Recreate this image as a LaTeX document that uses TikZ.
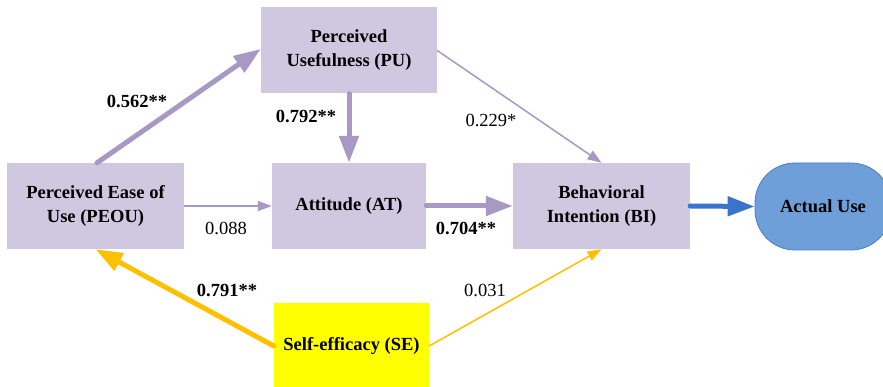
\documentclass[tikz,border=0pt]{standalone}
\usepackage{fontspec}
\setmainfont{Liberation Serif}
\usetikzlibrary{arrows.meta}
\definecolor{boxfill}{RGB}{208,200,224}
\definecolor{lav}{RGB}{168,152,196}
\definecolor{sefill}{RGB}{255,255,0}
\definecolor{seline}{RGB}{255,192,0}
\definecolor{aufill}{RGB}{111,159,216}
\definecolor{audraw}{RGB}{74,126,200}
\definecolor{blarrow}{RGB}{56,116,204}
\tikzset{
  cbox/.style={fill=boxfill, draw=none, align=center, font=\fontsize{18.5}{24}\selectfont\bfseries, inner sep=0pt},
  thickarr/.style={line width=5pt, line cap=round, -{Triangle[length=27pt,width=19pt]}},
  thinarr/.style={line width=1.5pt, -{Triangle[length=14pt,width=10pt]}},
  lab/.style={font=\fontsize{18.5}{20}\selectfont, inner sep=0pt},
  blab/.style={lab, font=\fontsize{18.5}{20}\selectfont\bfseries}
}
\begin{document}
\begin{tikzpicture}[x=1pt,y=-1pt]
\useasboundingbox (0,0) rectangle (883,387);
\node[cbox, minimum width=176pt, minimum height=86pt] (pu) at (349,50.5) {Perceived\\Usefulness (PU)};
\node[cbox, minimum width=177pt, minimum height=86pt] (peou) at (95.5,206) {Perceived Ease of\\Use (PEOU)};
\node[cbox, minimum width=154pt, minimum height=86pt] (at) at (349,206) {Attitude (AT)};
\node[cbox, minimum width=177pt, minimum height=86pt] (bi) at (601.5,206) {Behavioral\\Intention (BI)};
\node[fill=aufill, draw=audraw, line width=0.8pt, rounded corners=40pt, minimum width=136pt, minimum height=87pt, font=\fontsize{18.5}{24}\selectfont\bfseries, inner sep=0pt] (au) at (823,206.5) {Actual Use};
\node[fill=sefill, draw=none, minimum width=155pt, minimum height=86pt, font=\fontsize{18.5}{24}\selectfont\bfseries, inner sep=0pt] (se) at (351.5,346) {Self-efficacy (SE)};

\draw[thickarr, lav] ([xshift=1.5pt]peou.north) -- ([yshift=1.5pt]pu.west);
\draw[thickarr, lav] (pu.south) -- (at.north);
\draw[thinarr, lav] (peou.east) -- (at.west);
\draw[thickarr, lav] (at.east) -- (bi.west);
\draw[thinarr, lav] (pu.east) -- (bi.north);
\draw[thickarr, blarrow] (bi.east) -- (au.west);
\draw[thickarr, seline] (se.west) -- (peou.south);
\draw[thinarr, seline] (se.east) -- (bi.south);

\node[blab] (l1) at (137,101) {0.562**};
\node[blab] (l2) at (306,116) {0.792**};
\node[lab] (l3) at (226,228) {0.088};
\node[lab] (l4) at (491,120) {0.229*};
\node[blab] (l5) at (466,228) {0.704**};
\node[blab] (l6) at (227,290) {0.791**};
\node[lab] (l7) at (485,290) {0.031};
\end{tikzpicture}
\end{document}
